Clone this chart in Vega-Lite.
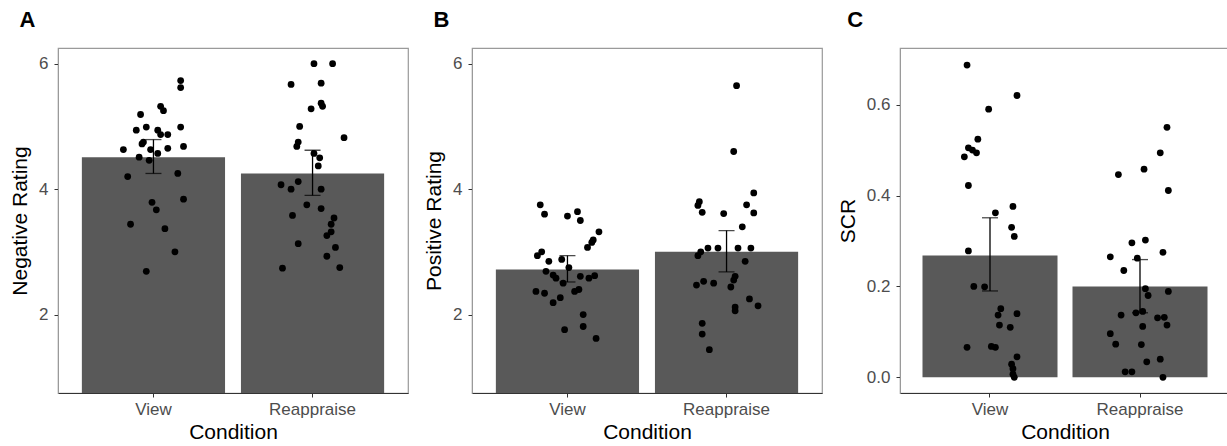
{
  "$schema": "https://vega.github.io/schema/vega-lite/v6.json",
  "padding": {"left": 8, "top": 8, "right": 0, "bottom": 0},
  "background": "white",
  "spacing": 13,
  "config": {
    "font": "Liberation Sans",
    "view": {"stroke": "#9a9a9a", "strokeWidth": 1.2},
    "axis": {
      "grid": false,
      "labelFont": "Liberation Sans",
      "labelFontSize": 17,
      "labelColor": "#4d4d4d",
      "titleFont": "Liberation Sans",
      "titleFontSize": 21,
      "titleFontWeight": "normal",
      "titleColor": "#000000",
      "tickColor": "#333333",
      "tickSize": 4,
      "domainColor": "#333333"
    },
    "axisX": {"labelAngle": 0, "labelPadding": 4, "titlePadding": 4},
    "axisY": {"labelPadding": 6, "titlePadding": 8, "domainColor": "#9a9a9a"},
    "title": {"font": "Liberation Sans", "fontSize": 22, "fontWeight": "bold", "color": "#000000", "anchor": "start", "frame": "bounds", "offset": 16, "dx": 10}
  },
  "datasets": {
    "points": [
      {"panel": "A", "condition": "View", "value": 5.73, "jitter": 0.19},
      {"panel": "A", "condition": "View", "value": 5.62, "jitter": 0.19},
      {"panel": "A", "condition": "View", "value": 5.19, "jitter": -0.09},
      {"panel": "A", "condition": "View", "value": 5.32, "jitter": 0.05},
      {"panel": "A", "condition": "View", "value": 5.25, "jitter": 0.07},
      {"panel": "A", "condition": "View", "value": 4.94, "jitter": -0.12},
      {"panel": "A", "condition": "View", "value": 4.99, "jitter": -0.05},
      {"panel": "A", "condition": "View", "value": 4.94, "jitter": 0.03},
      {"panel": "A", "condition": "View", "value": 4.87, "jitter": 0.05},
      {"panel": "A", "condition": "View", "value": 4.87, "jitter": 0.1},
      {"panel": "A", "condition": "View", "value": 4.99, "jitter": 0.19},
      {"panel": "A", "condition": "View", "value": 4.72, "jitter": -0.08},
      {"panel": "A", "condition": "View", "value": 4.75, "jitter": -0.07},
      {"panel": "A", "condition": "View", "value": 4.63, "jitter": -0.21},
      {"panel": "A", "condition": "View", "value": 4.63, "jitter": -0.02},
      {"panel": "A", "condition": "View", "value": 4.65, "jitter": 0.1},
      {"panel": "A", "condition": "View", "value": 4.68, "jitter": 0.21},
      {"panel": "A", "condition": "View", "value": 4.57, "jitter": 0.03},
      {"panel": "A", "condition": "View", "value": 4.51, "jitter": -0.1},
      {"panel": "A", "condition": "View", "value": 4.46, "jitter": -0.03},
      {"panel": "A", "condition": "View", "value": 4.25, "jitter": 0.17},
      {"panel": "A", "condition": "View", "value": 4.2, "jitter": -0.18},
      {"panel": "A", "condition": "View", "value": 3.84, "jitter": 0.21},
      {"panel": "A", "condition": "View", "value": 3.79, "jitter": -0.01},
      {"panel": "A", "condition": "View", "value": 3.67, "jitter": 0.02},
      {"panel": "A", "condition": "View", "value": 3.44, "jitter": -0.16},
      {"panel": "A", "condition": "View", "value": 3.37, "jitter": 0.08},
      {"panel": "A", "condition": "View", "value": 3.0, "jitter": 0.15},
      {"panel": "A", "condition": "View", "value": 2.69, "jitter": -0.05},
      {"panel": "A", "condition": "Reappraise", "value": 6.0, "jitter": 0.01},
      {"panel": "A", "condition": "Reappraise", "value": 6.0, "jitter": 0.14},
      {"panel": "A", "condition": "Reappraise", "value": 5.67, "jitter": -0.15},
      {"panel": "A", "condition": "Reappraise", "value": 5.69, "jitter": 0.06},
      {"panel": "A", "condition": "Reappraise", "value": 5.37, "jitter": 0.06},
      {"panel": "A", "condition": "Reappraise", "value": 5.32, "jitter": 0.07},
      {"panel": "A", "condition": "Reappraise", "value": 5.28, "jitter": -0.01},
      {"panel": "A", "condition": "Reappraise", "value": 5.0, "jitter": -0.09},
      {"panel": "A", "condition": "Reappraise", "value": 4.82, "jitter": 0.22},
      {"panel": "A", "condition": "Reappraise", "value": 4.75, "jitter": -0.1},
      {"panel": "A", "condition": "Reappraise", "value": 4.68, "jitter": -0.11},
      {"panel": "A", "condition": "Reappraise", "value": 4.57, "jitter": 0.01},
      {"panel": "A", "condition": "Reappraise", "value": 4.5, "jitter": 0.05},
      {"panel": "A", "condition": "Reappraise", "value": 4.37, "jitter": 0.04},
      {"panel": "A", "condition": "Reappraise", "value": 4.07, "jitter": -0.22},
      {"panel": "A", "condition": "Reappraise", "value": 4.12, "jitter": -0.1},
      {"panel": "A", "condition": "Reappraise", "value": 4.0, "jitter": -0.15},
      {"panel": "A", "condition": "Reappraise", "value": 4.0, "jitter": 0.06},
      {"panel": "A", "condition": "Reappraise", "value": 3.75, "jitter": -0.04},
      {"panel": "A", "condition": "Reappraise", "value": 3.69, "jitter": 0.06},
      {"panel": "A", "condition": "Reappraise", "value": 3.58, "jitter": -0.14},
      {"panel": "A", "condition": "Reappraise", "value": 3.54, "jitter": 0.15},
      {"panel": "A", "condition": "Reappraise", "value": 3.44, "jitter": 0.13},
      {"panel": "A", "condition": "Reappraise", "value": 3.32, "jitter": 0.13},
      {"panel": "A", "condition": "Reappraise", "value": 3.26, "jitter": 0.1},
      {"panel": "A", "condition": "Reappraise", "value": 3.13, "jitter": -0.1},
      {"panel": "A", "condition": "Reappraise", "value": 3.07, "jitter": 0.16},
      {"panel": "A", "condition": "Reappraise", "value": 2.93, "jitter": 0.1},
      {"panel": "A", "condition": "Reappraise", "value": 2.74, "jitter": -0.21},
      {"panel": "A", "condition": "Reappraise", "value": 2.75, "jitter": 0.19},
      {"panel": "B", "condition": "View", "value": 3.75, "jitter": -0.19},
      {"panel": "B", "condition": "View", "value": 3.6, "jitter": -0.16},
      {"panel": "B", "condition": "View", "value": 3.57, "jitter": 0.0},
      {"panel": "B", "condition": "View", "value": 3.64, "jitter": 0.07},
      {"panel": "B", "condition": "View", "value": 3.5, "jitter": 0.09},
      {"panel": "B", "condition": "View", "value": 3.32, "jitter": 0.22},
      {"panel": "B", "condition": "View", "value": 3.19, "jitter": 0.18},
      {"panel": "B", "condition": "View", "value": 3.15, "jitter": 0.17},
      {"panel": "B", "condition": "View", "value": 3.07, "jitter": 0.14},
      {"panel": "B", "condition": "View", "value": 3.0, "jitter": -0.18},
      {"panel": "B", "condition": "View", "value": 2.94, "jitter": -0.21},
      {"panel": "B", "condition": "View", "value": 2.85, "jitter": -0.13},
      {"panel": "B", "condition": "View", "value": 2.88, "jitter": -0.04},
      {"panel": "B", "condition": "View", "value": 2.75, "jitter": 0.01},
      {"panel": "B", "condition": "View", "value": 2.69, "jitter": -0.15},
      {"panel": "B", "condition": "View", "value": 2.63, "jitter": -0.1},
      {"panel": "B", "condition": "View", "value": 2.58, "jitter": -0.08},
      {"panel": "B", "condition": "View", "value": 2.5, "jitter": -0.03},
      {"panel": "B", "condition": "View", "value": 2.61, "jitter": 0.09},
      {"panel": "B", "condition": "View", "value": 2.58, "jitter": 0.15},
      {"panel": "B", "condition": "View", "value": 2.62, "jitter": 0.19},
      {"panel": "B", "condition": "View", "value": 2.37, "jitter": -0.22},
      {"panel": "B", "condition": "View", "value": 2.34, "jitter": -0.16},
      {"panel": "B", "condition": "View", "value": 2.37, "jitter": 0.05},
      {"panel": "B", "condition": "View", "value": 2.4, "jitter": 0.08},
      {"panel": "B", "condition": "View", "value": 2.27, "jitter": -0.05},
      {"panel": "B", "condition": "View", "value": 2.19, "jitter": -0.1},
      {"panel": "B", "condition": "View", "value": 2.0, "jitter": 0.11},
      {"panel": "B", "condition": "View", "value": 1.81, "jitter": 0.11},
      {"panel": "B", "condition": "View", "value": 1.76, "jitter": -0.02},
      {"panel": "B", "condition": "View", "value": 1.62, "jitter": 0.2},
      {"panel": "B", "condition": "Reappraise", "value": 5.65, "jitter": 0.07},
      {"panel": "B", "condition": "Reappraise", "value": 4.6, "jitter": 0.05},
      {"panel": "B", "condition": "Reappraise", "value": 3.94, "jitter": 0.19},
      {"panel": "B", "condition": "Reappraise", "value": 3.8, "jitter": -0.19},
      {"panel": "B", "condition": "Reappraise", "value": 3.74, "jitter": -0.2},
      {"panel": "B", "condition": "Reappraise", "value": 3.63, "jitter": -0.17},
      {"panel": "B", "condition": "Reappraise", "value": 3.61, "jitter": -0.02},
      {"panel": "B", "condition": "Reappraise", "value": 3.75, "jitter": 0.14},
      {"panel": "B", "condition": "Reappraise", "value": 3.62, "jitter": 0.19},
      {"panel": "B", "condition": "Reappraise", "value": 3.4, "jitter": 0.11},
      {"panel": "B", "condition": "Reappraise", "value": 2.94, "jitter": -0.2},
      {"panel": "B", "condition": "Reappraise", "value": 3.0, "jitter": -0.18},
      {"panel": "B", "condition": "Reappraise", "value": 3.06, "jitter": -0.13},
      {"panel": "B", "condition": "Reappraise", "value": 3.06, "jitter": -0.06},
      {"panel": "B", "condition": "Reappraise", "value": 3.06, "jitter": 0.08},
      {"panel": "B", "condition": "Reappraise", "value": 3.06, "jitter": 0.17},
      {"panel": "B", "condition": "Reappraise", "value": 2.85, "jitter": 0.13},
      {"panel": "B", "condition": "Reappraise", "value": 2.61, "jitter": 0.06},
      {"panel": "B", "condition": "Reappraise", "value": 2.55, "jitter": 0.05},
      {"panel": "B", "condition": "Reappraise", "value": 2.47, "jitter": -0.21},
      {"panel": "B", "condition": "Reappraise", "value": 2.53, "jitter": -0.16},
      {"panel": "B", "condition": "Reappraise", "value": 2.5, "jitter": -0.09},
      {"panel": "B", "condition": "Reappraise", "value": 2.44, "jitter": 0.03},
      {"panel": "B", "condition": "Reappraise", "value": 2.25, "jitter": 0.16},
      {"panel": "B", "condition": "Reappraise", "value": 2.14, "jitter": 0.22},
      {"panel": "B", "condition": "Reappraise", "value": 2.12, "jitter": 0.06},
      {"panel": "B", "condition": "Reappraise", "value": 2.06, "jitter": 0.06},
      {"panel": "B", "condition": "Reappraise", "value": 1.86, "jitter": -0.17},
      {"panel": "B", "condition": "Reappraise", "value": 1.69, "jitter": -0.17},
      {"panel": "B", "condition": "Reappraise", "value": 1.44, "jitter": -0.12},
      {"panel": "C", "condition": "View", "value": 0.687, "jitter": -0.17},
      {"panel": "C", "condition": "View", "value": 0.62, "jitter": 0.2},
      {"panel": "C", "condition": "View", "value": 0.59, "jitter": -0.01},
      {"panel": "C", "condition": "View", "value": 0.524, "jitter": -0.09},
      {"panel": "C", "condition": "View", "value": 0.505, "jitter": -0.16},
      {"panel": "C", "condition": "View", "value": 0.5, "jitter": -0.13},
      {"panel": "C", "condition": "View", "value": 0.494, "jitter": -0.1},
      {"panel": "C", "condition": "View", "value": 0.485, "jitter": -0.19},
      {"panel": "C", "condition": "View", "value": 0.422, "jitter": -0.16},
      {"panel": "C", "condition": "View", "value": 0.376, "jitter": 0.17},
      {"panel": "C", "condition": "View", "value": 0.362, "jitter": 0.04},
      {"panel": "C", "condition": "View", "value": 0.33, "jitter": 0.16},
      {"panel": "C", "condition": "View", "value": 0.31, "jitter": 0.18},
      {"panel": "C", "condition": "View", "value": 0.278, "jitter": -0.16},
      {"panel": "C", "condition": "View", "value": 0.2, "jitter": -0.12},
      {"panel": "C", "condition": "View", "value": 0.199, "jitter": -0.04},
      {"panel": "C", "condition": "View", "value": 0.151, "jitter": 0.08},
      {"panel": "C", "condition": "View", "value": 0.137, "jitter": 0.06},
      {"panel": "C", "condition": "View", "value": 0.14, "jitter": 0.2},
      {"panel": "C", "condition": "View", "value": 0.115, "jitter": 0.07},
      {"panel": "C", "condition": "View", "value": 0.11, "jitter": 0.15},
      {"panel": "C", "condition": "View", "value": 0.066, "jitter": -0.17},
      {"panel": "C", "condition": "View", "value": 0.068, "jitter": 0.01},
      {"panel": "C", "condition": "View", "value": 0.066, "jitter": 0.04},
      {"panel": "C", "condition": "View", "value": 0.045, "jitter": 0.2},
      {"panel": "C", "condition": "View", "value": 0.029, "jitter": 0.16},
      {"panel": "C", "condition": "View", "value": 0.019, "jitter": 0.17},
      {"panel": "C", "condition": "View", "value": 0.007, "jitter": 0.17},
      {"panel": "C", "condition": "View", "value": 0.0, "jitter": 0.18},
      {"panel": "C", "condition": "Reappraise", "value": 0.55, "jitter": 0.2},
      {"panel": "C", "condition": "Reappraise", "value": 0.494, "jitter": 0.15},
      {"panel": "C", "condition": "Reappraise", "value": 0.458, "jitter": 0.03},
      {"panel": "C", "condition": "Reappraise", "value": 0.446, "jitter": -0.16},
      {"panel": "C", "condition": "Reappraise", "value": 0.411, "jitter": 0.21},
      {"panel": "C", "condition": "Reappraise", "value": 0.302, "jitter": 0.04},
      {"panel": "C", "condition": "Reappraise", "value": 0.296, "jitter": -0.06},
      {"panel": "C", "condition": "Reappraise", "value": 0.265, "jitter": -0.22},
      {"panel": "C", "condition": "Reappraise", "value": 0.275, "jitter": 0.17},
      {"panel": "C", "condition": "Reappraise", "value": 0.262, "jitter": -0.02},
      {"panel": "C", "condition": "Reappraise", "value": 0.235, "jitter": -0.12},
      {"panel": "C", "condition": "Reappraise", "value": 0.195, "jitter": 0.04},
      {"panel": "C", "condition": "Reappraise", "value": 0.18, "jitter": 0.06},
      {"panel": "C", "condition": "Reappraise", "value": 0.189, "jitter": 0.21},
      {"panel": "C", "condition": "Reappraise", "value": 0.137, "jitter": -0.14},
      {"panel": "C", "condition": "Reappraise", "value": 0.142, "jitter": -0.03},
      {"panel": "C", "condition": "Reappraise", "value": 0.145, "jitter": 0.02},
      {"panel": "C", "condition": "Reappraise", "value": 0.131, "jitter": 0.13},
      {"panel": "C", "condition": "Reappraise", "value": 0.132, "jitter": 0.18},
      {"panel": "C", "condition": "Reappraise", "value": 0.115, "jitter": 0.2},
      {"panel": "C", "condition": "Reappraise", "value": 0.112, "jitter": 0.02},
      {"panel": "C", "condition": "Reappraise", "value": 0.096, "jitter": -0.22},
      {"panel": "C", "condition": "Reappraise", "value": 0.073, "jitter": -0.18},
      {"panel": "C", "condition": "Reappraise", "value": 0.072, "jitter": 0.01},
      {"panel": "C", "condition": "Reappraise", "value": 0.034, "jitter": 0.05},
      {"panel": "C", "condition": "Reappraise", "value": 0.04, "jitter": 0.15},
      {"panel": "C", "condition": "Reappraise", "value": 0.012, "jitter": -0.11},
      {"panel": "C", "condition": "Reappraise", "value": 0.012, "jitter": -0.06},
      {"panel": "C", "condition": "Reappraise", "value": 0.0, "jitter": 0.17}
    ],
    "summary": [
      {"panel": "A", "condition": "View", "mean": 4.51, "lo": 4.25, "hi": 4.79},
      {"panel": "A", "condition": "Reappraise", "mean": 4.25, "lo": 3.9, "hi": 4.62},
      {"panel": "B", "condition": "View", "mean": 2.72, "lo": 2.52, "hi": 2.94},
      {"panel": "B", "condition": "Reappraise", "mean": 3.0, "lo": 2.68, "hi": 3.34},
      {"panel": "C", "condition": "View", "mean": 0.268, "lo": 0.19, "hi": 0.351},
      {"panel": "C", "condition": "Reappraise", "mean": 0.2, "lo": 0.142, "hi": 0.259}
    ]
  },
  "hconcat": [
    {
      "title": {"text": "A"},
      "width": 350,
      "height": 345,
      "resolve": {"scale": {"xOffset": "independent"}},
      "layer": [
        {
          "data": {"name": "summary"},
          "transform": [{"filter": "datum.panel === 'A'"}],
          "mark": {"type": "bar", "color": "#595959", "clip": true},
          "encoding": {
            "x": {"field": "condition", "type": "nominal", "sort": ["View", "Reappraise"], "scale": {"paddingInner": 0.1, "paddingOuter": 0.15}, "title": "Condition"},
            "y": {"field": "mean", "type": "quantitative", "scale": {"domain": [0.75, 6.25], "nice": false, "zero": false}, "axis": {"values": [2, 4, 6], "format": "d"}, "title": "Negative Rating"}
          }
        },
        {
          "data": {"name": "points"},
          "transform": [{"filter": "datum.panel === 'A'"}],
          "mark": {"type": "circle", "color": "#000000", "opacity": 1, "size": 46},
          "encoding": {
            "x": {"field": "condition", "type": "nominal", "sort": ["View", "Reappraise"], "title": "Condition"},
            "xOffset": {"field": "jitter", "type": "quantitative", "scale": {"domain": [-0.5, 0.5]}},
            "y": {"field": "value", "type": "quantitative", "title": "Negative Rating"}
          }
        },
        {
          "data": {"name": "summary"},
          "transform": [{"filter": "datum.panel === 'A'"}],
          "mark": {"type": "errorbar", "ticks": {"size": 16, "color": "#000000"}, "color": "#000000", "thickness": 1.3},
          "encoding": {
            "x": {"field": "condition", "type": "nominal", "sort": ["View", "Reappraise"], "title": "Condition"},
            "y": {"field": "lo", "type": "quantitative", "title": "Negative Rating"},
            "y2": {"field": "hi"}
          }
        }
      ]
    },
    {
      "title": {"text": "B"},
      "width": 350,
      "height": 345,
      "resolve": {"scale": {"xOffset": "independent"}},
      "layer": [
        {
          "data": {"name": "summary"},
          "transform": [{"filter": "datum.panel === 'B'"}],
          "mark": {"type": "bar", "color": "#595959", "clip": true},
          "encoding": {
            "x": {"field": "condition", "type": "nominal", "sort": ["View", "Reappraise"], "scale": {"paddingInner": 0.1, "paddingOuter": 0.15}, "title": "Condition"},
            "y": {"field": "mean", "type": "quantitative", "scale": {"domain": [0.75, 6.25], "nice": false, "zero": false}, "axis": {"values": [2, 4, 6], "format": "d"}, "title": "Positive Rating"}
          }
        },
        {
          "data": {"name": "points"},
          "transform": [{"filter": "datum.panel === 'B'"}],
          "mark": {"type": "circle", "color": "#000000", "opacity": 1, "size": 46},
          "encoding": {
            "x": {"field": "condition", "type": "nominal", "sort": ["View", "Reappraise"], "title": "Condition"},
            "xOffset": {"field": "jitter", "type": "quantitative", "scale": {"domain": [-0.5, 0.5]}},
            "y": {"field": "value", "type": "quantitative", "title": "Positive Rating"}
          }
        },
        {
          "data": {"name": "summary"},
          "transform": [{"filter": "datum.panel === 'B'"}],
          "mark": {"type": "errorbar", "ticks": {"size": 16, "color": "#000000"}, "color": "#000000", "thickness": 1.3},
          "encoding": {
            "x": {"field": "condition", "type": "nominal", "sort": ["View", "Reappraise"], "title": "Condition"},
            "y": {"field": "lo", "type": "quantitative", "title": "Positive Rating"},
            "y2": {"field": "hi"}
          }
        }
      ]
    },
    {
      "title": {"text": "C"},
      "width": 330,
      "height": 345,
      "resolve": {"scale": {"xOffset": "independent"}},
      "layer": [
        {
          "data": {"name": "summary"},
          "transform": [{"filter": "datum.panel === 'C'"}],
          "mark": {"type": "bar", "color": "#595959", "clip": true},
          "encoding": {
            "x": {"field": "condition", "type": "nominal", "sort": ["View", "Reappraise"], "scale": {"paddingInner": 0.1, "paddingOuter": 0.15}, "title": "Condition"},
            "y": {"field": "mean", "type": "quantitative", "scale": {"domain": [-0.0345, 0.7245], "nice": false, "zero": false}, "axis": {"values": [0, 0.2, 0.4, 0.6], "format": ".1f"}, "title": "SCR"}
          }
        },
        {
          "data": {"name": "points"},
          "transform": [{"filter": "datum.panel === 'C'"}],
          "mark": {"type": "circle", "color": "#000000", "opacity": 1, "size": 46},
          "encoding": {
            "x": {"field": "condition", "type": "nominal", "sort": ["View", "Reappraise"], "title": "Condition"},
            "xOffset": {"field": "jitter", "type": "quantitative", "scale": {"domain": [-0.5, 0.5]}},
            "y": {"field": "value", "type": "quantitative", "title": "SCR"}
          }
        },
        {
          "data": {"name": "summary"},
          "transform": [{"filter": "datum.panel === 'C'"}],
          "mark": {"type": "errorbar", "ticks": {"size": 16, "color": "#000000"}, "color": "#000000", "thickness": 1.3},
          "encoding": {
            "x": {"field": "condition", "type": "nominal", "sort": ["View", "Reappraise"], "title": "Condition"},
            "y": {"field": "lo", "type": "quantitative", "title": "SCR"},
            "y2": {"field": "hi"}
          }
        }
      ]
    }
  ]
}
